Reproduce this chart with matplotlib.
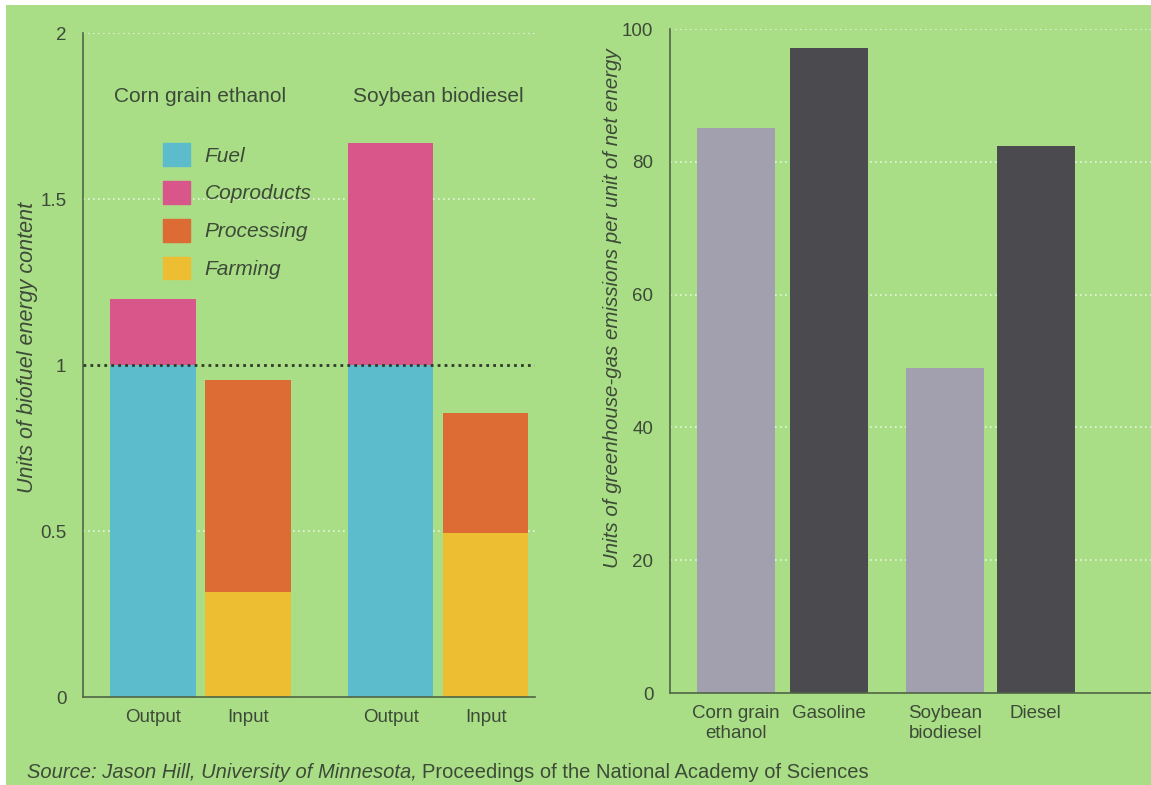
import numpy as np
import matplotlib.pyplot as plt
from matplotlib.patches import Rectangle, Patch

plt.rcParams['font.family'] = ['Liberation Sans', 'DejaVu Sans']

# left panel data: energy content per unit of biofuel
left_labels = ['Output', 'Input', 'Output', 'Input']
left_pos = [0, 1, 2.5, 3.5]
fuel = [1.0, 0, 1.0, 0]
coproducts = [0.2, 0, 0.67, 0]
farming = [0, 0.315, 0, 0.495]
processing = [0, 0.64, 0, 0.36]
groups = ['Corn grain ethanol', 'Soybean biodiesel']

# right panel data: greenhouse-gas emissions
right_labels = ['Corn grain\nethanol', 'Gasoline', 'Soybean\nbiodiesel', 'Diesel']
right_pos = [0, 1, 2.25, 3.22]
emissions = [85.1, 97.1, 48.9, 82.4]

bg = '#a9de86'
txt = '#3d4a38'
axcol = '#4f6446'
c_fuel, c_cop, c_proc, c_farm = '#5cbccc', '#d9568a', '#dc6c34', '#edbd32'
c_light, c_dark = '#a29fae', '#4b4b4f'

W, H = 1151, 785
fig = plt.figure(figsize=(W / 100, H / 100), dpi=100, facecolor='white')
fig.patches.append(Rectangle((6 / W, 0), 1 - 6 / W, 1 - 5 / H,
                             transform=fig.transFigure, facecolor=bg,
                             edgecolor='none', zorder=-10))

def box(l, t, r, b):
    return [l / W, 1 - b / H, (r - l) / W, (b - t) / H]

# ---- left panel
ax1 = fig.add_axes(box(83, 33, 535, 697))
ax1.patch.set_visible(False)
ax1.bar(left_pos, fuel, width=0.9, color=c_fuel)
ax1.bar(left_pos, coproducts, width=0.9, bottom=fuel, color=c_cop)
ax1.bar(left_pos, farming, width=0.9, color=c_farm)
ax1.bar(left_pos, processing, width=0.9, bottom=farming, color=c_proc)
ax1.set_xlim(-0.737, 4.02)
ax1.set_ylim(0, 2)
ax1.set_yticks([0, 0.5, 1, 1.5, 2])
ax1.set_yticklabels(['0', '0.5', '1', '1.5', '2'])
for y in [0.5, 1.5, 2]:
    ax1.axhline(y, color='#e6f5dc', lw=1.2, ls=(0, (1, 2)), zorder=0)
ax1.axhline(1, color='#2f3a2a', lw=2, ls=(0, (1, 1.5)), zorder=3)
ax1.set_xticks(left_pos)
ax1.set_xticklabels(left_labels)
ax1.set_ylabel('Units of biofuel energy content', style='italic', fontsize=15.5,
               color=txt)
ax1.yaxis.set_label_coords(-0.1, 0.526)
for g, x in zip(groups, [0.5, 3.0]):
    ax1.text(x, 1.81, g, ha='center', va='center', fontsize=15, color=txt)
handles = [Patch(color=c) for c in [c_fuel, c_cop, c_proc, c_farm]]
leg = ax1.legend(handles, ['Fuel', 'Coproducts', 'Processing', 'Farming'],
                 loc='upper left', bbox_to_anchor=(0.135, 0.862), frameon=False,
                 handlelength=1.3, handleheight=1.3, handletextpad=0.7,
                 labelspacing=0.72, prop={'style': 'italic', 'size': 15})
for t in leg.get_texts():
    t.set_color(txt)

# ---- right panel
ax2 = fig.add_axes(box(670, 29, 1151, 693))
ax2.patch.set_visible(False)
ax2.bar(right_pos, emissions, width=0.84,
        color=[c_light, c_dark, c_light, c_dark])
ax2.set_xlim(-0.71, 4.46)
ax2.set_ylim(0, 100)
ax2.set_yticks([0, 20, 40, 60, 80, 100])
for y in [20, 40, 60, 80, 100]:
    ax2.axhline(y, color='#e6f5dc', lw=1.2, ls=(0, (1, 2)), zorder=0)
ax2.set_xticks(right_pos)
ax2.set_xticklabels(right_labels, linespacing=1.2)
ax2.set_ylabel('Units of greenhouse-gas emissions per unit of net energy',
               style='italic', fontsize=14.8, color=txt)
ax2.yaxis.set_label_coords(-0.1, 0.58)

for ax in (ax1, ax2):
    for s in ['top', 'right']:
        ax.spines[s].set_visible(False)
    for s in ['left', 'bottom']:
        ax.spines[s].set_color(axcol)
        ax.spines[s].set_linewidth(1.2)
    ax.tick_params(length=0, labelsize=13.5, labelcolor=txt, pad=12)
    ax.tick_params(axis='x', pad=9)

# source line
t1 = fig.text(27 / W, 1 - 773 / H, 'Source: Jason Hill, University of Minnesota,',
              style='italic', fontsize=14.5, color=txt, va='center')
fig.canvas.draw()
bb = t1.get_window_extent()
fig.text((bb.x1 + 5) / W, 1 - 773 / H, 'Proceedings of the National Academy of Sciences',
         fontsize=14.5, color=txt, va='center')

fig.savefig('out.png', dpi=100, facecolor='white')
